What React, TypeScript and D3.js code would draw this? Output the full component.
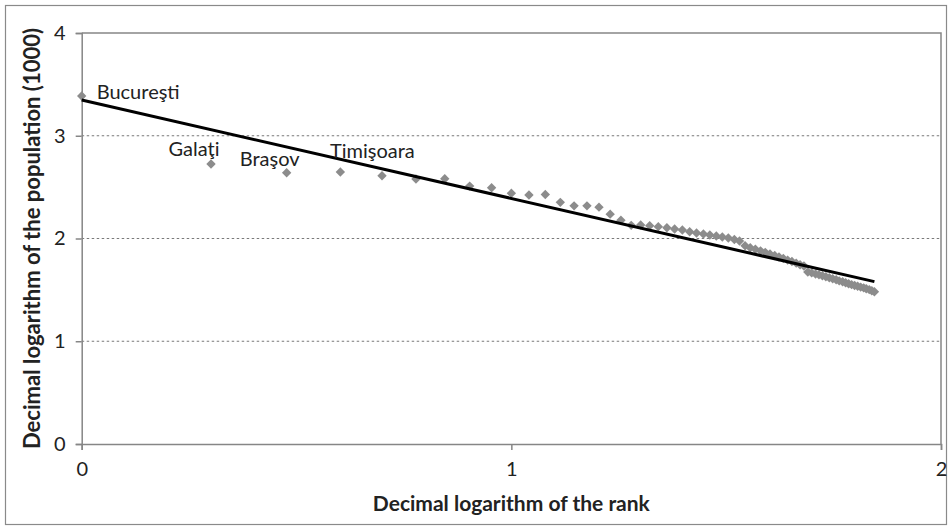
import { useRef, useEffect } from 'react'
import * as d3 from 'd3'

// log10 of city rank (1..70)
const logRank = [
  0, 0.301, 0.477, 0.602, 0.699, 0.778, 0.845, 0.903, 0.954, 1,
  1.041, 1.079, 1.114, 1.146, 1.176, 1.204, 1.23, 1.255, 1.279, 1.301,
  1.322, 1.342, 1.362, 1.38, 1.398, 1.415, 1.431, 1.447, 1.462, 1.477,
  1.491, 1.505, 1.519, 1.531, 1.544, 1.556, 1.568, 1.58, 1.591, 1.602,
  1.613, 1.623, 1.633, 1.643, 1.653, 1.663, 1.672, 1.681, 1.69, 1.699,
  1.708, 1.716, 1.724, 1.732, 1.74, 1.748, 1.756, 1.763, 1.771, 1.778,
  1.785, 1.792, 1.799, 1.806, 1.813, 1.82, 1.826, 1.833, 1.839, 1.845,
]

// log10 of population (thousands)
const logPop = [
  3.387, 2.725, 2.64, 2.647, 2.611, 2.579, 2.582, 2.51, 2.494, 2.44,
  2.423, 2.428, 2.352, 2.318, 2.318, 2.305, 2.237, 2.177, 2.128, 2.131,
  2.125, 2.115, 2.105, 2.092, 2.083, 2.066, 2.053, 2.044, 2.034, 2.024,
  2.015, 2.005, 1.99, 1.976, 1.93, 1.91, 1.895, 1.88, 1.865, 1.85,
  1.835, 1.82, 1.806, 1.79, 1.776, 1.76, 1.745, 1.732, 1.674, 1.665,
  1.655, 1.646, 1.637, 1.628, 1.618, 1.608, 1.598, 1.588, 1.579, 1.569,
  1.56, 1.551, 1.542, 1.535, 1.527, 1.52, 1.511, 1.502, 1.492, 1.482,
]

// linear trend line end points
const trendX = [0, 1.845]
const trendY = [3.348, 1.58]

const xTicks = [0, 1, 2]
const yTicks = [0, 1, 2, 3, 4]
const gridTicks = [1, 2, 3]

// labelled cities: index into the series, with label offset
const cityLabels = [
  { i: 0, name: 'Bucureşti', dx: 15, dy: 3, anchor: 'start' },
  { i: 1, name: 'Galaţi', dx: -17, dy: -8, anchor: 'middle' },
  { i: 2, name: 'Braşov', dx: -17, dy: -7, anchor: 'middle' },
  { i: 3, name: 'Timişoara', dx: 32, dy: -14, anchor: 'middle' },
]

const W = 952
const H = 529
const FONT = 'Lato, "Open Sans", sans-serif'

export default function App() {
  const svgRef = useRef<SVGSVGElement>(null)

  useEffect(() => {
    if (!svgRef.current) return
    const svg = d3.select(svgRef.current)
    svg.selectAll('*').remove()

    const x = d3.scaleLinear().domain([0, 2]).range([81.7, 941])
    const y = d3.scaleLinear().domain([0, 4]).range([444, 33])
    const grey = '#868686'

    // outer frame
    svg.append('rect')
      .attr('x', 5.5).attr('y', 5.5)
      .attr('width', W - 11).attr('height', H - 10)
      .attr('fill', '#fff').attr('stroke', '#8a8a8a').attr('stroke-width', 1.2)

    // gridlines
    svg.append('g').selectAll('line').data(gridTicks).join('line')
      .attr('x1', x(0)).attr('x2', x(2))
      .attr('y1', (d) => y(d)).attr('y2', (d) => y(d))
      .attr('stroke', '#7a7a7a').attr('stroke-width', 1.1)
      .attr('stroke-dasharray', '2.5,2.5')

    // plot frame (top and right)
    svg.append('path')
      .attr('d', `M${x(0)},${y(4)}H${x(2)}V${y(0)}`)
      .attr('fill', 'none').attr('stroke', grey).attr('stroke-width', 1.5)

    // y axis
    const yAxis = svg.append('g').attr('transform', `translate(${x(0)},0)`)
      .call(d3.axisLeft(y).tickValues(yTicks).tickSize(6).tickPadding(10).tickFormat(d3.format('d')))
    yAxis.select('.domain').attr('stroke', grey).attr('stroke-width', 1.5)
    yAxis.selectAll('.tick line').attr('stroke', grey).attr('stroke-width', 1.5)
    yAxis.selectAll('.tick text')
      .attr('font-family', FONT).attr('font-size', 20).attr('fill', '#222')

    // x axis
    const xAxis = svg.append('g').attr('transform', `translate(0,${y(0)})`)
      .call(d3.axisBottom(x).tickValues(xTicks).tickSize(6).tickPadding(12).tickFormat(d3.format('d')))
    xAxis.select('.domain').attr('stroke', grey).attr('stroke-width', 1.5)
    xAxis.selectAll('.tick line').attr('stroke', grey).attr('stroke-width', 1.5)
    xAxis.selectAll('.tick text')
      .attr('font-family', FONT).attr('font-size', 20).attr('fill', '#222')

    const points = logRank.map((r, i) => ({ r, p: logPop[i] }))

    // markers
    const diamond = d3.symbol().type(d3.symbolSquare).size(44)
    svg.append('g').selectAll('path').data(points).join('path')
      .attr('d', diamond)
      .attr('transform', (d) => `translate(${x(d.r)},${y(d.p)}) rotate(45)`)
      .attr('fill', '#8c8c8c')

    // trend line
    const trend = trendX.map((v, i) => [v, trendY[i]] as [number, number])
    svg.append('path')
      .attr('d', d3.line<[number, number]>().x((d) => x(d[0])).y((d) => y(d[1]))(trend) ?? '')
      .attr('fill', 'none').attr('stroke', '#000').attr('stroke-width', 3)

    // city labels
    svg.append('g').selectAll('text').data(cityLabels).join('text')
      .attr('x', (d) => x(logRank[d.i]) + d.dx)
      .attr('y', (d) => y(logPop[d.i]) + d.dy)
      .attr('text-anchor', (d) => d.anchor)
      .attr('font-family', FONT).attr('font-size', 20).attr('fill', '#222')
      .text((d) => d.name)

    // axis titles
    svg.append('text')
      .attr('x', (x(0) + x(2)) / 2).attr('y', 511)
      .attr('text-anchor', 'middle')
      .attr('font-family', FONT).attr('font-size', 21).attr('font-weight', 'bold').attr('fill', '#222')
      .text('Decimal logarithm of the rank')

    svg.append('text')
      .attr('transform', `translate(40,${(y(0) + y(4)) / 2}) rotate(-90)`)
      .attr('text-anchor', 'middle')
      .attr('font-family', FONT).attr('font-size', 22).attr('font-weight', 'bold').attr('fill', '#222')
      .text('Decimal logarithm of the population (1000)')
  }, [])

  return (
    <svg
      ref={svgRef}
      width={W}
      height={H}
      style={{ position: 'absolute', left: 0, top: 0, background: '#fff' }}
    />
  )
}
